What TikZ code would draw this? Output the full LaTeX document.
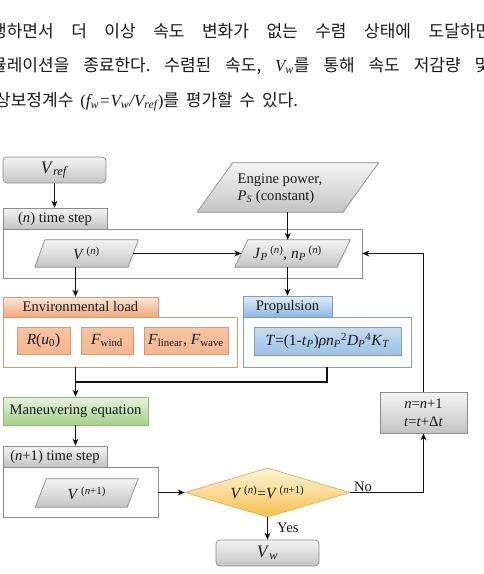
\documentclass[tikz,border=0pt]{standalone}
\usepackage{fontspec}
\setmainfont{Liberation Serif}
\newfontfamily\krfont{Noto Sans CJK KR}
\usetikzlibrary{arrows.meta,shapes.geometric}
\pgfdeclarelayer{bg}
\pgfdeclarelayer{paper}
\pgfsetlayers{paper,bg,main}
\definecolor{txt}{HTML}{1A1A1A}
\definecolor{arrc}{HTML}{111111}
\definecolor{grayline}{HTML}{8C8C8C}
\definecolor{gtop}{HTML}{F4F4F4}
\definecolor{gbot}{HTML}{C4C4C4}
\definecolor{otop}{HTML}{FCE6D8}
\definecolor{obot}{HTML}{F2A97C}
\definecolor{osubtop}{HTML}{F8C4A4}
\definecolor{osubbot}{HTML}{F5B690}
\definecolor{oline}{HTML}{D39A78}
\definecolor{btop}{HTML}{E2EDF8}
\definecolor{bbot}{HTML}{8DB8E2}
\definecolor{bsubtop}{HTML}{C9DCF0}
\definecolor{bsubbot}{HTML}{9CC1E6}
\definecolor{bline}{HTML}{7F9DBF}
\definecolor{grtop}{HTML}{E6F3DD}
\definecolor{grbot}{HTML}{A6D08A}
\definecolor{grline}{HTML}{8DB873}
\definecolor{ytop}{HTML}{FFF5D6}
\definecolor{ybot}{HTML}{F6C04E}
\definecolor{yline}{HTML}{D8B060}
\newcommand\plg[2]{%
  \begin{pgfonlayer}{bg}
  \path[plgstyle] ([xshift=#2]#1.north west) -- ([xshift=#2]#1.north east)
     -- ([xshift=-#2]#1.south east) -- ([xshift=-#2]#1.south west) -- cycle;
  \end{pgfonlayer}}
\begin{document}
\begin{tikzpicture}[x=1pt,y=-1pt,
  every node/.style={inner sep=0pt, text=txt},
  lbl/.style={font=\fontsize{14.6}{17.5}\selectfont},
  tabg/.style={draw=grayline, line width=0.7pt, top color=gtop, bottom color=gbot, lbl},
  cont/.style={draw=grayline, line width=0.7pt},
  plgstyle/.style={draw=grayline, line width=0.7pt, top color=gtop, bottom color=gbot},
  otab/.style={draw=oline, line width=0.7pt, top color=otop, bottom color=obot, lbl},
  osub/.style={draw=oline, line width=0.7pt, top color=osubtop, bottom color=osubbot, font=\fontsize{15.5}{17}\selectfont},
  btab/.style={draw=bline, line width=0.7pt, top color=btop, bottom color=bbot, lbl},
  bsub/.style={draw=bline, line width=0.7pt, top color=bsubtop, bottom color=bsubbot, font=\fontsize{15.5}{17}\selectfont},
  arr/.style={line width=1.3pt, draw=arrc, -{Stealth[length=7pt,width=6pt]}},
  ln/.style={line width=1.3pt, draw=arrc},
  kr/.style={anchor=base west, text=txt, font=\krfont\fontsize{17}{19}\selectfont},
]
\useasboundingbox (0,0) rectangle (483,574);
\begin{pgfonlayer}{paper}
\fill[white] (0,0) rectangle (483,574);
\end{pgfonlayer}
% Korean text
\begin{scope}
\clip (0,0) rectangle (483,574);
\node[kr] (k1) at (-9,37) {\hbox to 500pt{행하면서\hfill 더\hfill 이상\hfill 속도\hfill 변화가\hfill 없는\hfill 수렴\hfill 상태에\hfill 도달하면}};
\node[kr] (k2) at (-9,71) {\hbox to 499pt{뮬레이션을\hfill 종료한다.\hfill 수렴된\hfill 속도,\hfill {\rmfamily\itshape V\textsubscript{w}}를\hfill 통해\hfill 속도\hfill 저감량\hfill 및}};
\node[kr] (k3) at (-5,106) {\hbox to 303pt{상보정계수\hfill {\rmfamily(\itshape f\textsubscript{w}=V\textsubscript{w}/V\textsubscript{ref}\upshape)}를\hfill 평가할\hfill 수\hfill 있다.}};
\end{scope}

% top part
\node[tabg, rounded corners=4pt, minimum width=103pt, minimum height=26pt, font=\fontsize{17.5}{19}\selectfont] (vref) at (54.5,170) {\textit{V}\textsubscript{\textit{ref}}};
\node[minimum width=145.5pt, minimum height=49pt] (eng) at (287.75,187.5) {};
\plg{eng}{17.75pt}
\node[lbl, align=left] (engt) at (280,188.5) {Engine power,\\\textit{P}\textsubscript{\textit{S}} (constant)};

\node[cont, minimum width=359pt, minimum height=49pt] (boxn) at (182.5,253.5) {};
\node[tabg, minimum width=104pt, minimum height=21pt] (tabn) at (55,218.5) {(\textit{n}) time step};
\node[minimum width=93pt, minimum height=27pt, font=\fontsize{15.5}{17}\selectfont] (vn) at (86.5,253.5) {\textit{V}\,\textsuperscript{(\textit{n})}};
\plg{vn}{5pt}
\node[minimum width=102pt, minimum height=27pt, font=\fontsize{15.5}{17}\selectfont] (jp) at (292.5,253.5) {\textit{J}\textsubscript{\textit{P}}\,\textsuperscript{(\textit{n})}, \textit{n}\textsubscript{\textit{P}}\,\textsuperscript{(\textit{n})}\kern10pt};
\plg{jp}{6.5pt}

% environmental load
\node[draw=oline, line width=0.7pt, minimum width=234pt, minimum height=50pt] (envbox) at (120,342) {};
\node[otab, minimum width=155pt, minimum height=20pt] (envtab) at (80.5,307) {Environmental load};
\node[osub, minimum width=53pt, minimum height=27pt] (ru) at (43.5,340.5) {\textit{R}(\textit{u}\textsubscript{0})};
\node[osub, minimum width=52pt, minimum height=27pt] (fw) at (107,340.5) {\textit{F}\textsubscript{wind}};
\node[osub, minimum width=84pt, minimum height=27pt] (fl) at (186,340.5) {\textit{F}\textsubscript{linear}, \textit{F}\textsubscript{wave}};

% propulsion
\node[draw=bline, line width=0.7pt, minimum width=168pt, minimum height=50pt] (propbox) at (327,342) {};
\node[btab, minimum width=89pt, minimum height=21pt] (proptab) at (287.5,306.5) {Propulsion};
\node[bsub, minimum width=147pt, minimum height=28pt] (tbox) at (327.5,341) {\textit{T}=(1-\textit{t}\textsubscript{\textit{P}})\textit{ρn}\textsubscript{\textit{P}}\textsuperscript{2}\textit{D}\textsubscript{\textit{P}}\textsuperscript{4}\textit{K}\textsubscript{\textit{T}}};

% maneuvering
\node[draw=grline, line width=0.7pt, top color=grtop, bottom color=grbot, lbl, minimum width=145pt, minimum height=28pt] (mane) at (75.5,411) {Maneuvering equation};

% n+1 step
\node[cont, minimum width=155pt, minimum height=50pt] (boxn1) at (80.5,492) {};
\node[tabg, minimum width=104pt, minimum height=21pt] (tabn1) at (55,456.5) {(\textit{n}+1) time step};
\node[minimum width=91.5pt, minimum height=28pt, font=\fontsize{15.5}{17}\selectfont] (vn1) at (86.75,493) {\textit{V}\,\textsuperscript{(\textit{n}+1)}};
\plg{vn1}{5.5pt}

% decision
\node[diamond, aspect=3.4, draw=yline, line width=0.7pt, top color=ytop, bottom color=ybot, minimum width=165pt, minimum height=49pt, font=\fontsize{15.5}{17}\selectfont] (dia) at (267.5,492.5) {\textit{V}\,\textsuperscript{(\textit{n})}=\textit{V}\,\textsuperscript{(\textit{n}+1)}};
\node[tabg, rounded corners=4pt, minimum width=103pt, minimum height=26pt, font=\fontsize{17.5}{19}\selectfont] (vw) at (267.5,553) {\textit{V}\textsubscript{\textit{w}}};
\node[tabg, minimum width=87pt, minimum height=41pt, align=center] (nbox) at (423.5,412.5) {\textit{n}=\textit{n}+1\\\textit{t}=\textit{t}+Δ\textit{t}};

% connectors
\coordinate (j) at (75.5,382);
\draw[arr] (vref.south) -- (vref.south |- tabn.north);
\draw[arr] (vn.east) -- (jp.west);
\draw[arr] (eng.south) -- (eng.south |- jp.north);
\draw[arr] (vn.south -| mane.north) -- (envtab.north -| mane.north);
\draw[arr] (jp.south -| proptab.north) -- (proptab.north);
\draw[arr] (envbox.south -| mane.north) -- (mane.north);
\draw[ln] (propbox.south) |- (j);
\draw[arr] (mane.south) -- (mane.south |- tabn1.north);
\draw[arr] (boxn1.east |- dia.west) -- (dia.west);
\draw[arr] (dia.east) -| (nbox.south);
\draw[arr] (dia.south) -- (vw.north);
\draw[arr] (nbox.north) |- (boxn.east);
\node[lbl, anchor=base west] (no) at (354,491) {No};
\node[lbl, anchor=base west] (yes) at (277,532) {Yes};
\end{tikzpicture}
\end{document}
